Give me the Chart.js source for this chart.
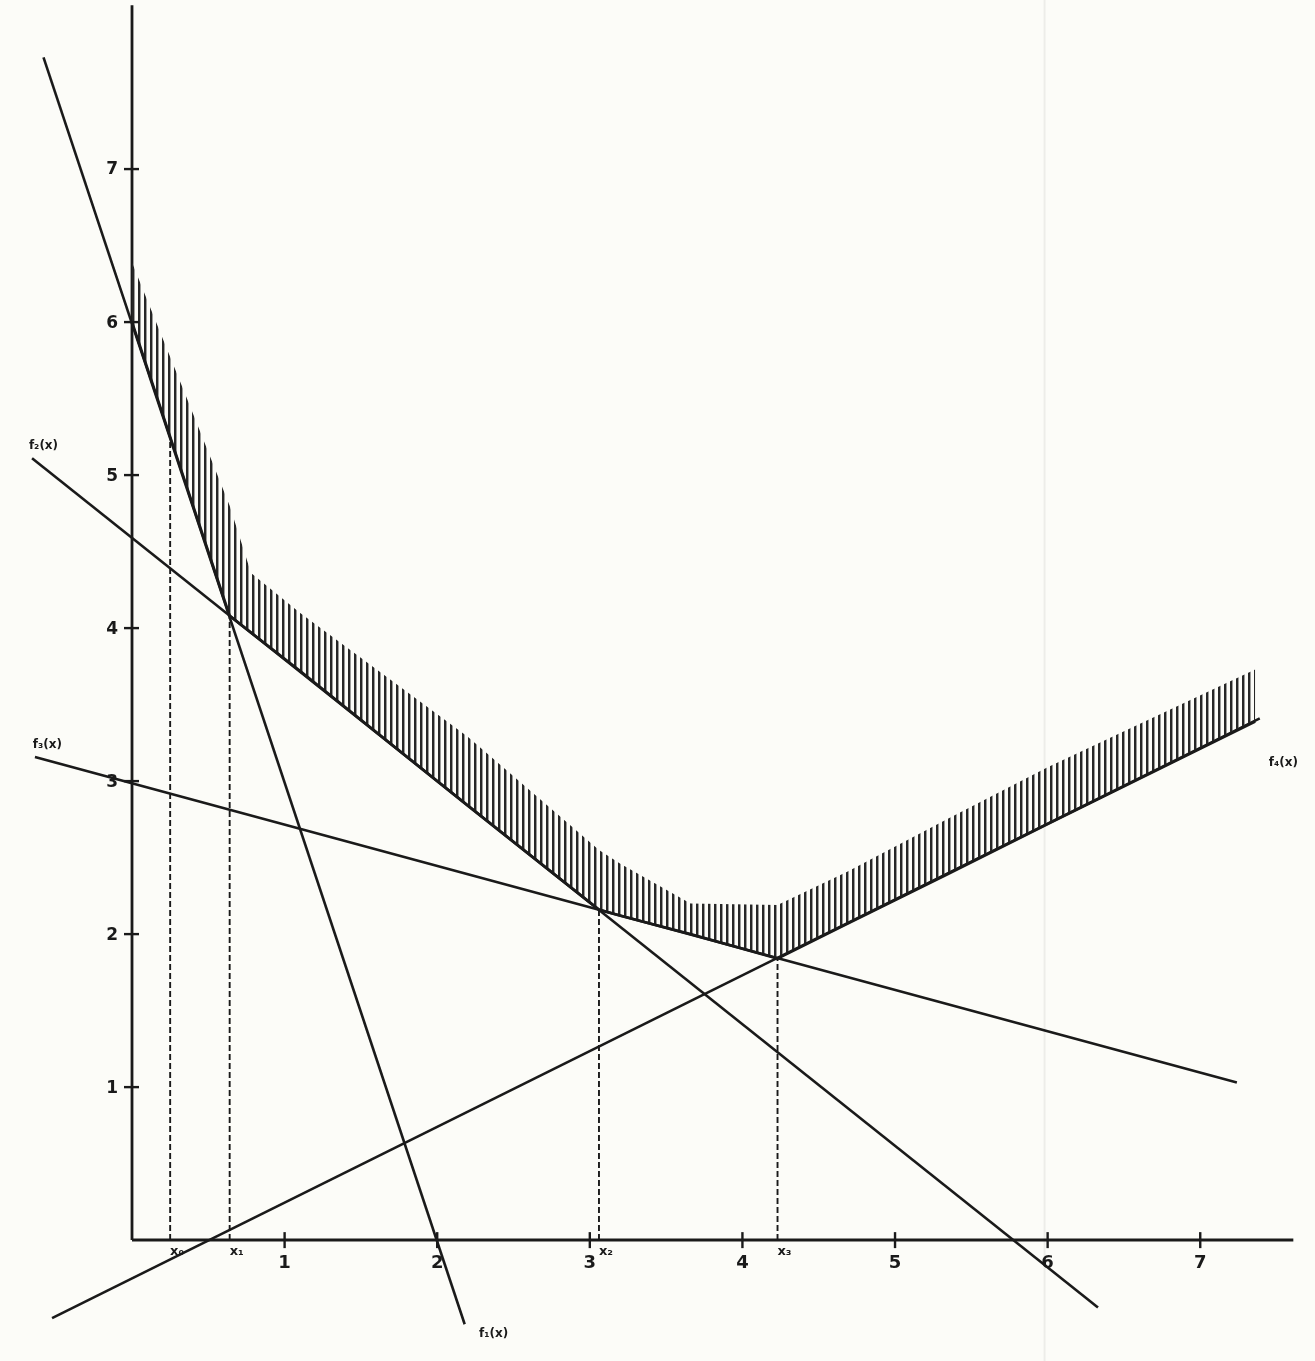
<!DOCTYPE html>
<html>
<head>
<meta charset="utf-8">
<script src="https://cdn.jsdelivr.net/npm/chart.js@4/dist/chart.umd.min.js"></script>
<style>
  html, body { margin: 0; padding: 0; background: #fcfcf8; }
  #wrap { width: 1315px; height: 1361px; position: relative; }
  canvas { display: block; }
</style>
</head>
<body>
<div id="wrap"><canvas id="c" width="1315" height="1361"></canvas></div>
<script>
// ---------------- data ----------------
const xTickValues = [1, 2, 3, 4, 5, 6, 7];
const yTickValues = [1, 2, 3, 4, 5, 6, 7];
const xTickLabels = ['1', '2', '3', '4', '5', '6', '7'];
const yTickLabels = ['1', '2', '3', '4', '5', '6', '7'];

// straight lines (end points)
const f1X = [-0.58, 2.18];  const f1Y = [7.73, -0.55];
const f2X = [-0.655, 6.33]; const f2Y = [5.11, -0.44];
const f3X = [-0.636, 7.24]; const f3Y = [3.157, 1.03];
const f4X = [-0.524, 7.39]; const f4Y = [-0.51, 3.41];

// break points x0..x3 and the heights their dashed guides reach
const markX = [0.25, 0.64, 3.06, 4.23];
const markY = [5.25, 4.08, 2.16, 1.84];
const markLabels = ['x\u2080', 'x\u2081', 'x\u2082', 'x\u2083'];

// hatched band: lower edge (upper envelope of the lines) and top of the hatch strokes
const hatchX   = [0,    0.36, 0.64, 0.78, 1.10, 2.20, 3.06, 3.20, 3.66, 4.23, 4.69, 5.34, 6.00, 7.36];
const envelope = [6.00, 4.92, 4.08, 3.97, 3.72, 2.84, 2.16, 2.12, 2.00, 1.84, 2.07, 2.39, 2.72, 3.39];
const hatchTop = [6.39, 5.50, 4.80, 4.36, 4.10, 3.29, 2.55, 2.46, 2.20, 2.19, 2.41, 2.75, 3.09, 3.73];

// axes extents
const xAxisEnd = 7.61;
const yAxisEnd = 8.07;

// line labels
const lineLabelText = ['f\u2081(x)', 'f\u2082(x)', 'f\u2083(x)', 'f\u2084(x)'];

// ---------------- presentation ----------------
const INK = '#1a1a1a';
const labelPos = [ [2.37, -0.61], [-0.58, 5.19], [-0.555, 3.24], [7.545, 3.12] ];

function pts(xs, ys) { return xs.map((x, i) => ({ x: x, y: ys[i] })); }

// vertical-stroke pattern for the hatch
const pc = document.createElement('canvas');
pc.width = 6; pc.height = 8;
const pctx = pc.getContext('2d');
pctx.fillStyle = '#262626';
pctx.fillRect(0, 0, 2, 8);
pctx.fillStyle = 'rgba(38,38,38,0.45)';
pctx.fillRect(2, 0, 1, 8);
const ctxMain = document.getElementById('c').getContext('2d');
const pattern = ctxMain.createPattern(pc, 'repeat');

function lineDs(data, opts) {
  return Object.assign({
    data: data, showLine: true, pointRadius: 0, borderColor: INK,
    borderWidth: 2.6, fill: false, tension: 0
  }, opts || {});
}

const datasets = [
  lineDs(pts(hatchX, envelope), { label: 'envelope', borderWidth: 2.8 }),
  lineDs(pts(hatchX, hatchTop), { label: 'hatch', borderWidth: 0, borderColor: 'rgba(0,0,0,0)', fill: 0, backgroundColor: pattern }),
  lineDs(pts([5.98, 5.98], [-0.79, 8.105]), { label: 'fold', borderColor: 'rgba(0,0,0,0.06)', borderWidth: 2 }),
  lineDs(pts([0, xAxisEnd], [0, 0]), { label: 'xaxis', borderWidth: 3 }),
  lineDs(pts([0, 0], [0, yAxisEnd]), { label: 'yaxis', borderWidth: 2.8 }),
  lineDs(pts(f1X, f1Y), { label: 'f1' }),
  lineDs(pts(f2X, f2Y), { label: 'f2' }),
  lineDs(pts(f3X, f3Y), { label: 'f3' }),
  lineDs(pts(f4X, f4Y), { label: 'f4' })
];
markX.forEach((mx, i) => {
  datasets.push(lineDs(pts([mx, mx], [0, markY[i]]), { label: 'mark' + i, borderWidth: 1.9, borderDash: [6, 3] }));
});

const decorPlugin = {
  id: 'decor',
  afterDatasetsDraw(chart) {
    const ctx = chart.ctx;
    const xs = chart.scales.x, ys = chart.scales.y;
    const x0 = xs.getPixelForValue(0), y0 = ys.getPixelForValue(0);
    ctx.save();
    ctx.strokeStyle = INK;
    ctx.fillStyle = INK;
    ctx.lineWidth = 2.4;
    // x ticks (crossing the axis)
    xTickValues.forEach((v, i) => {
      const px = xs.getPixelForValue(v);
      ctx.beginPath(); ctx.moveTo(px, y0 - 8); ctx.lineTo(px, y0 + 8); ctx.stroke();
      ctx.font = 'bold 18px "DejaVu Sans", sans-serif';
      ctx.textAlign = 'center'; ctx.textBaseline = 'middle';
      ctx.fillText(xTickLabels[i], px, y0 + 23);
    });
    // y ticks
    yTickValues.forEach((v, i) => {
      const py = ys.getPixelForValue(v);
      ctx.beginPath(); ctx.moveTo(x0 - 8, py); ctx.lineTo(x0 + 7, py); ctx.stroke();
      ctx.font = 'bold 17px "DejaVu Sans", sans-serif';
      ctx.textAlign = 'right'; ctx.textBaseline = 'middle';
      ctx.fillText(yTickLabels[i], x0 - 14, py + 1);
    });
    // break point labels
    ctx.font = 'bold 13px "DejaVu Sans", sans-serif';
    ctx.textAlign = 'center'; ctx.textBaseline = 'middle';
    markX.forEach((mx, i) => {
      const px = xs.getPixelForValue(mx);
      ctx.fillText(markLabels[i], px + 7, y0 + 12);
    });
    // line labels
    ctx.font = 'bold 12px "DejaVu Sans", sans-serif';
    lineLabelText.forEach((t, i) => {
      const p = labelPos[i];
      ctx.fillText(t, xs.getPixelForValue(p[0]), ys.getPixelForValue(p[1]));
    });
    ctx.restore();
  }
};

new Chart(ctxMain, {
  type: 'scatter',
  data: { datasets: datasets },
  options: {
    responsive: false,
    animation: false,
    devicePixelRatio: 1,
    layout: { padding: 0 },
    plugins: { legend: { display: false }, tooltip: { enabled: false } },
    elements: { point: { radius: 0, hoverRadius: 0 } },
    scales: {
      x: { type: 'linear', min: -0.865, max: 7.752, display: false },
      y: { type: 'linear', min: -0.790, max: 8.105, display: false }
    }
  },
  plugins: [decorPlugin]
});
</script>
</body>
</html>
